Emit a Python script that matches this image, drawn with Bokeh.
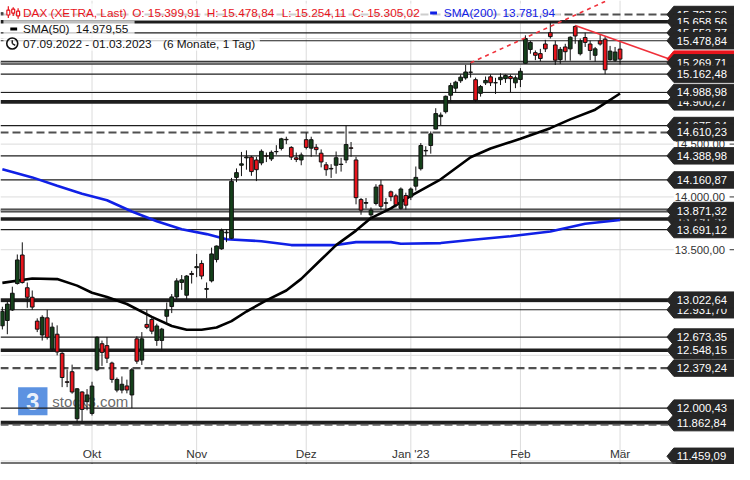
import numpy as np
from bokeh.plotting import figure
from bokeh.models import Range1d, ColumnDataSource
from bokeh.core.properties import value
from bokeh.embed import file_html
from bokeh.resources import INLINE

# ---------------- data ----------------
dates = (
    ["2022-09-%02d" % d for d in [7, 8, 9, 12, 13, 14, 15, 16, 19, 20, 21, 22, 23, 26, 27, 28, 29, 30]]
    + ["2022-10-%02d" % d for d in [3, 4, 5, 6, 7, 10, 11, 12, 13, 14, 17, 18, 19, 20, 21, 24, 25, 26, 27, 28, 31]]
    + ["2022-11-%02d" % d for d in [1, 2, 3, 4, 7, 8, 9, 10, 11, 14, 15, 16, 17, 18, 21, 22, 23, 24, 25, 28, 29, 30]]
    + ["2022-12-%02d" % d for d in [1, 2, 5, 6, 7, 8, 9, 12, 13, 14, 15, 16, 19, 20, 21, 22, 23, 27, 28, 29, 30]]
    + ["2023-01-%02d" % d for d in [2, 3, 4, 5, 6, 9, 10, 11, 12, 13, 16, 17, 18, 19, 20, 23, 24, 25, 26, 27, 30, 31]]
    + ["2023-02-%02d" % d for d in [1, 2, 3, 6, 7, 8, 9, 10, 13, 14, 15, 16, 17, 20, 21, 22, 23, 24, 27, 28]]
    + ["2023-03-01"]
)

opens = [12780, 12830, 12930, 13180, 13450, 13140, 13050, 12824, 12693, 12855, 12560, 12700, 12519, 12250, 12345, 11900, 12153, 12061,
         11950, 12363, 12610, 12592, 12427, 12171, 12171, 12210, 12125, 12656, 12455, 12793, 12839, 12641, 12641, 12870, 12962, 13053, 13190, 13069, 13275,
         13330, 13370, 13125, 13205, 13407, 13508, 13660, 13608, 14185, 14300, 14370, 14377, 14350, 14322, 14390, 14360, 14430, 14459, 14545, 14469, 14370, 14350,
         14542, 14462, 14470, 14414, 14304, 14270, 14300, 14310, 14350, 14465, 14350, 13975, 13940, 13830, 13938, 14112, 13940, 14048, 14010, 13892, 14013,
         13999, 14102, 14267, 14440, 14487, 14643, 14760, 14807, 14963, 15030, 15100, 15127, 15180, 15110, 14981, 15080, 15137, 15080, 15110, 15120, 15140, 15080,
         15112, 15265, 15396, 15366, 15357, 15448, 15555, 15439, 15300, 15420, 15402, 15614, 15356, 15509, 15448, 15341, 15478, 15494, 15300, 15295,
         15399.91]
highs = [12960, 13010, 13150, 13455, 13570, 13190, 13114, 12850, 12880, 12931, 12810, 12784, 12530, 12366, 12412, 12190, 12160, 12180,
         12250, 12680, 12640, 12674, 12440, 12290, 12300, 12270, 12380, 12680, 12720, 12931.70, 12860, 12800, 12760, 13000, 13080, 13230, 13260, 13260, 13300,
         13460, 13400, 13190, 13520, 13540, 13700, 13693, 14180, 14270, 14426, 14441, 14388.98, 14380, 14450, 14420, 14440, 14490, 14560, 14570, 14480, 14420, 14420,
         14610.23, 14570, 14500, 14450, 14330, 14310, 14430, 14370, 14675.94, 14520, 14380, 13990, 13990, 13900, 14120, 14160.87, 13990, 14060, 14030, 14090, 14040,
         14090, 14288, 14510, 14480, 14620, 14840, 14800, 14960, 15080, 15100, 15160, 15250, 15269.71, 15130, 15060, 15140, 15160, 15128, 15170, 15160, 15158, 15150,
         15220, 15530, 15478, 15387, 15402, 15487, 15658.56, 15478, 15420, 15450, 15520, 15624, 15500, 15553.77, 15480, 15420, 15540, 15520, 15430, 15420,
         15478.84]
lows = [12745, 12700, 12920, 13170, 13180, 12950, 12931, 12720, 12640, 12650, 12540, 12500, 12199, 12199, 12137, 11862.84, 11878, 11980,
        11930, 12350, 12400, 12427, 12240, 12150, 12140, 12140, 12000.43, 12420, 12409, 12748, 12700, 12590, 12548.15, 12790, 12900, 13030, 13120, 13030, 13180,
        13240, 13220, 13040, 13190, 13380, 13500, 13572, 13600, 14140, 14197, 14258, 14200, 14150, 14300, 14330, 14340, 14400, 14440, 14500, 14350, 14330, 14300,
        14450, 14380, 14400, 14280, 14200, 14180, 14220, 14240, 14320, 14380, 13930, 13831, 13890, 13791.52, 13920, 13880, 13870, 13960, 13900, 13880, 13880,
        13970, 14060, 14250, 14390, 14410, 14640, 14680, 14790, 14900, 14990, 15080, 15110, 15130, 14900, 14950, 15060, 15050, 14975, 15060, 15080, 14990, 15030,
        15040, 15260, 15356, 15295, 15283, 15372, 15500, 15250, 15260, 15290, 15290, 15450, 15340, 15420, 15295, 15280, 15433, 15162.48, 15290, 15280,
        15254.11]
closes = [12916, 12985, 13088, 13403, 13189, 13050, 12957, 12748, 12860, 12671, 12767, 12532, 12290, 12244, 12153, 12183, 11988, 12125,
          12209, 12670, 12528, 12473, 12272, 12272, 12226, 12172, 12363, 12445, 12656, 12765, 12729, 12778, 12748, 12931, 13053, 13205, 13215, 13251, 13265,
          13340, 13251, 13132, 13460, 13535, 13682, 13666, 14148, 14230, 14313, 14378, 14240, 14258, 14432, 14386, 14422, 14428, 14550, 14541, 14377, 14355, 14397,
          14469, 14542, 14448, 14331, 14258, 14265, 14371, 14307, 14496, 14460, 13993, 13875, 13947, 13875, 14093, 13911, 13945, 14002, 13926, 14075, 13922,
          14075, 14185, 14487, 14436, 14597, 14789, 14775, 14953, 15054, 15087, 15134, 15183, 15182, 14917, 15045, 15103, 15081, 15082, 15133, 15150, 15120, 15128,
          15190, 15500, 15463, 15341, 15311, 15402, 15518, 15295, 15397, 15375, 15512, 15524, 15478, 15463, 15387, 15402, 15448, 15204, 15381, 15372,
          15305.02]

sma50_dates = ["2022-09-07", "2022-09-15", "2022-09-22", "2022-09-28", "2022-10-03", "2022-10-06", "2022-10-12", "2022-10-19",
               "2022-10-25", "2022-10-28", "2022-11-02", "2022-11-07", "2022-11-10", "2022-11-15", "2022-11-21", "2022-11-25",
               "2022-11-30", "2022-12-06", "2022-12-09", "2022-12-15", "2022-12-20", "2022-12-27", "2023-01-02", "2023-01-10",
               "2023-01-18", "2023-01-24", "2023-02-01", "2023-02-09", "2023-02-15", "2023-02-22", "2023-03-01"]
sma50_values = [13186, 13227, 13222, 13160, 13093, 13053, 12986, 12864, 12778, 12742, 12742, 12763, 12824, 12915, 13020, 13114,
                13224, 13407, 13544, 13681, 13800, 13892, 14010, 14167, 14376, 14459, 14551, 14651, 14734, 14826, 14979.55]

sma200_dates = ["2022-09-07", "2022-09-15", "2022-09-22", "2022-09-29", "2022-10-06", "2022-10-13", "2022-10-20", "2022-10-27",
                "2022-11-03", "2022-11-09", "2022-11-18", "2022-11-28", "2022-12-09", "2022-12-15", "2022-12-27", "2022-12-29",
                "2023-01-10", "2023-01-18", "2023-01-30", "2023-02-09", "2023-02-20", "2023-03-01"]
sma200_values = [14263, 14185, 14105, 14029, 13968, 13862, 13770, 13693, 13648, 13599, 13581, 13544, 13544, 13572, 13572, 13556,
                 13563, 13592, 13628, 13672, 13746, 13781.94]

# horizontal support / resistance levels (value, style)
level_values = [15727.33, 15658.56, 15553.77, 15478.84, 15269.71, 15162.48, 14988.98, 14900.27, 14675.94, 14610.23,
                14388.98, 14160.87, 13871.32, 13791.52, 13691.12, 13022.64, 12931.70, 12673.35, 12548.15, 12379.24,
                12000.43, 11862.84]
level_styles = ["dash", "thick", "thin", "thin", "grey", "thin", "thin", "thick", "thin", "dash",
                "thin", "thin", "grey", "thick", "thin", "thick", "thin", "thin", "thick", "dash",
                "thin", "thickdash"]
# price boxes on the right, in drawing order
box_values = [15727.33, 15658.56, 15553.77, 15478.84, 15305.02, 15269.71, 15162.48, 14900.27, 14988.98, 14675.94,
              14610.23, 14388.98, 14160.87, 13791.52, 13871.32, 13691.12, 12931.70, 13022.64, 12673.35, 12548.15,
              12379.24, 12000.43, 11862.84, 11459.09]
box_kinds = ["lvl"] * 4 + ["last"] + ["lvl"] * 19

grid_values = [11500, 12000, 12500, 13000, 13500, 14000, 14500, 15000, 15500]
ytick_values = [12000, 12500, 13000, 13500, 14000, 14500, 15000, 15500]
month_labels = ["Okt", "Nov", "Dez", "Jan '23", "Feb", "Mär"]
month_dates = ["2022-10-03", "2022-11-01", "2022-12-01", "2023-01-02", "2023-02-01", "2023-03-01"]

trend_up_bars = [94, 121.0]
trend_up_values = [15269.71, 15851]
trend_down_bars = [115, 133.6]
trend_down_values = [15624, 15311]

# ---------------- helpers ----------------
X0_PX, PX_PER_BAR = 1.9, 5.09
Y_REF_VAL, Y_REF_PX, PX_PER_PT = 15658.56, 22.0, 0.10925


def dx(px):
    return (px - X0_PX) / PX_PER_BAR


def dy(py):
    return Y_REF_VAL - (py - Y_REF_PX) / PX_PER_PT


def de(v):
    s = f"{v:,.2f}"
    return s.replace(",", "_").replace(".", ",").replace("_", ".")


FONT = value("Liberation Sans")
RED = "#e8141c"
BLUE = "#1020e6"
idx = {d: i for i, d in enumerate(dates)}

p = figure(width=734, height=464, x_range=Range1d(dx(0), dx(750)), y_range=Range1d(dy(480), dy(0)),
           x_axis_type=None, y_axis_type=None, toolbar_location=None, output_backend="svg",
           min_border=0, outline_line_color=None, background_fill_color="white", border_fill_color="white")

# grid
p.segment(x0=dx(0), y0=grid_values, x1=dx(688), y1=grid_values, line_color="#dcdcdc", line_width=1)
mx = [idx[d] for d in month_dates]
p.segment(x0=mx, y0=dy(478), x1=mx, y1=dy(0), line_color="#dcdcdc", line_width=1)

# watermark (under the price marks)
p.quad(left=dx(18), right=dx(48), top=dy(400), bottom=dy(429), fill_color="#3f7fdc", fill_alpha=0.85, line_color=None)
p.text(x=[dx(33)], y=[dy(415)], text=["3"], text_color="white", text_font=FONT, text_font_size="24px",
       text_font_style="bold", text_align="center", text_baseline="middle", text_alpha=0.9)
p.text(x=[dx(53)], y=[dy(415)], text=["stock3.com"], text_color="#444444", text_alpha=0.8, text_font=FONT,
       text_font_size="15px", text_align="left", text_baseline="middle")

# levels
lx0, lx1 = dx(0), dx(688)
for v, st in zip(level_values, level_styles):
    if st == "thin":
        p.segment(x0=[lx0], y0=[v], x1=[lx1], y1=[v], line_color="#1e1e1e", line_width=1.2)
    elif st == "thick":
        p.segment(x0=[lx0], y0=[v], x1=[lx1], y1=[v], line_color="#1e1e1e", line_width=3.6)
    elif st == "dash":
        p.segment(x0=[lx0], y0=[v], x1=[lx1], y1=[v], line_color="#505050", line_width=2.2, line_dash="8 4")
    elif st == "grey":
        p.segment(x0=[lx0], y0=[v], x1=[lx1], y1=[v], line_color="#3a3a3a", line_width=4)
        p.segment(x0=[lx0], y0=[v], x1=[lx1], y1=[v], line_color="#9a9a9a", line_width=1.5)
    elif st == "thickdash":
        p.segment(x0=[lx0], y0=[v], x1=[lx1], y1=[v], line_color="#1e1e1e", line_width=3.6)
        vv = v - 2.2 / PX_PER_PT
        p.segment(x0=[lx0], y0=[vv], x1=[lx1], y1=[vv], line_color="#606060", line_width=2, line_dash="8 4")

# moving averages
p.line([idx[d] for d in sma200_dates], sma200_values, line_color=BLUE, line_width=2.6)
p.line([idx[d] for d in sma50_dates], sma50_values, line_color="#000000", line_width=2.6)

# candles
o = np.array(opens, float)
c = np.array(closes, float)
src = ColumnDataSource(dict(
    x=list(range(len(dates))), high=highs, low=lows,
    top=np.maximum(o, c), bottom=np.minimum(o, c),
    color=[("#14401a" if cc >= oo else RED) for oo, cc in zip(o, c)],
))
p.segment(x0="x", y0="high", x1="x", y1="low", source=src, line_color="#111111", line_width=1)
p.vbar(x="x", width=0.74, top="top", bottom="bottom", source=src, fill_color="color",
       line_color="#111111", line_width=1)

# trend lines
p.line(trend_up_bars, trend_up_values, line_color="#f0303a", line_width=1.6, line_dash="4 4")
p.line(trend_down_bars, trend_down_values, line_color="#f0303a", line_width=1.6)

# header backgrounds
p.quad(left=dx(3), right=dx(572), top=dy(3), bottom=dy(21), fill_color="white", fill_alpha=0.72, line_color=None)
p.quad(left=dx(3), right=dx(137), top=dy(21), bottom=dy(37), fill_color="white", fill_alpha=0.72, line_color=None)
p.quad(left=dx(3), right=dx(265), top=dy(37), bottom=dy(52), fill_color="white", fill_alpha=0.72, line_color=None)

# header row 1 icon (small candles)
p.segment(x0=[dx(0)], y0=[dy(13)], x1=[dx(3)], y1=[dy(13)], line_color="#222222", line_width=1.5)
icx = [dx(8), dx(13), dx(18)]
p.segment(x0=icx, y0=[dy(6), dy(7), dy(8)], x1=icx, y1=[dy(18), dy(16), dy(19)], line_color=RED, line_width=1.2)
p.quad(left=[dx(6.5), dx(11.5), dx(16.5)], right=[dx(9.5), dx(14.5), dx(19.5)],
       top=[dy(10), dy(9), dy(11)], bottom=[dy(15), dy(13), dy(16)], fill_color="white", line_color=RED, line_width=1.2)

HFS = "11.8px"


def htxt(px, py, s, col):
    p.text(x=[dx(px)], y=[dy(py)], text=[s], text_color=col, text_font=FONT, text_font_size=HFS,
           text_align="left", text_baseline="middle")


htxt(23, 13, "DAX (XETRA, Last)", RED)
htxt(134.5, 13, "O: " + de(opens[-1]), RED)
htxt(210.7, 13, "H: " + de(highs[-1]), RED)
htxt(287.3, 13, "L: " + de(lows[-1]), RED)
htxt(359.3, 13, "C: " + de(closes[-1]), RED)
p.segment(x0=[dx(439)], y0=[dy(13)], x1=[dx(446)], y1=[dy(13)], line_color=BLUE, line_width=3)
htxt(453, 13, "SMA(200)", BLUE)
htxt(513, 13, de(sma200_values[-1]), BLUE)

p.segment(x0=[dx(10)], y0=[dy(29.5)], x1=[dx(17)], y1=[dy(29.5)], line_color="#000000", line_width=3)
htxt(23, 29, "SMA(50)", "#111111")
htxt(77, 29, de(sma50_values[-1]), "#111111")

d0 = dates[0].split("-")
d1 = dates[-1].split("-")
p.scatter(x=[dx(12)], y=[dy(44.5)], marker="circle", size=11, fill_color=None, line_color="#111111", line_width=1.6)
p.segment(x0=[dx(12), dx(12)], y0=[dy(44.5), dy(44.5)], x1=[dx(12), dx(15)], y1=[dy(41), dy(46.5)],
          line_color="#111111", line_width=1.4)
htxt(23, 44.5, f"{d0[2]}.{d0[1]}.{d0[0]} - {d1[2]}.{d1[1]}.{d1[0]}", "#111111")
htxt(166, 44.5, "(6 Monate, 1 Tag)", "#111111")

# y tick labels (under boxes)
p.text(x=[dx(689)] * len(ytick_values), y=ytick_values, text=[de(v) for v in ytick_values], text_color="#333333",
       text_font=FONT, text_font_size="11.3px", text_align="left", text_baseline="middle")
p.segment(x0=dx(745), y0=ytick_values, x1=dx(750), y1=ytick_values, line_color="#333333", line_width=1)

# price boxes (box at the very bottom is kept inside the frame)
tip_x, body_x, right_x = dx(681), dx(688), dx(755)
hh = 8.5 / PX_PER_PT
y_floor = dy(471.5)
for v, kind in zip(box_values, box_kinds):
    col = RED if kind == "last" else "#262626"
    yc = max(v, y_floor)
    p.patch([tip_x, body_x, right_x, right_x, body_x], [yc, yc + hh, yc + hh, yc - hh, yc - hh],
            fill_color=col, line_color=col, line_width=1)
    p.text(x=[dx(691)], y=[yc], text=[de(v)], text_color="white", text_font=FONT, text_font_size="11.3px",
           text_align="left", text_baseline="middle")

# x axis
p.segment(x0=[dx(0)], y0=[dy(478.5)], x1=[dx(690)], y1=[dy(478.5)], line_color="#444444", line_width=1.5)
p.segment(x0=mx, y0=dy(478.5), x1=mx, y1=dy(482), line_color="#444444", line_width=1)
p.text(x=mx, y=dy(469), text=month_labels, text_color="#333333", text_font=FONT, text_font_size="11.8px",
       text_align="center", text_baseline="middle")

open("out.html", "w").write(file_html(p, INLINE))
